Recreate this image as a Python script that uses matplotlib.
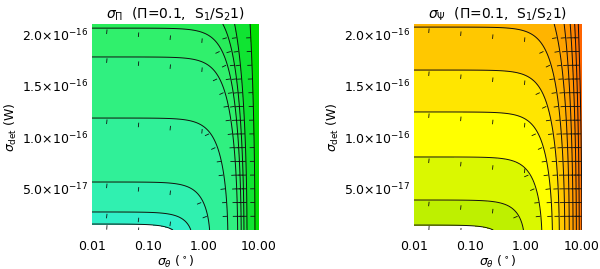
import numpy as np
import matplotlib.pyplot as plt
from matplotlib.collections import LineCollection

# axis ranges: sigma_theta (deg), sigma_det in units of 1e-16 W
x_range = [0.01, 10.0]
y_range = [0.1, 2.1]

# error model: sigma = sqrt(sdet^2 + (k*stheta)^2)
k_pi = 0.43
k_psi = 0.42

levels_pi = [0.158, 0.275, 0.566, 1.187, 1.78, 2.06, 2.31, 2.62, 3.64]
levels_psi = [0.148, 0.391, 0.809, 1.246, 1.653, 2.07, 2.49, 2.91, 3.33, 3.75, 4.17]

colors_pi = ['#30F0C8', '#30F0B0', '#30F098', '#30F080', '#30F06C',
             '#28EC5A', '#1EE848', '#10E432', '#00E000']
colors_psi = ['#BEF000', '#DAF800', '#FFFF00', '#FFE600', '#FFC800', '#FFB400',
              '#FFA200', '#FF9400', '#FF8400', '#FF7400', '#FF6400']

xticks = [0.01, 0.1, 1.0, 10.0]
xticklabels = ['0.01', '0.10', '1.00', '10.00']
yticks = [0.5, 1.0, 1.5, 2.0]
yticklabels = [r'5.0$\times$10$^{-17}$', r'1.0$\times$10$^{-16}$',
               r'1.5$\times$10$^{-16}$', r'2.0$\times$10$^{-16}$']

titles = [r'$\sigma_\Pi$  ($\Pi$=0.1,  S$_1$/S$_2$1)',
          r'$\sigma_\Psi$  ($\Pi$=0.1,  S$_1$/S$_2$1)']

# grid used to place the downhill ticks
tick_rows = np.linspace(0.1, 2.1, 16)[1:-1]
tick_cols = 10 ** (-1.73 + 0.57 * np.arange(5))

plt.rcParams['font.family'] = 'DejaVu Sans'


def make_field(k):
    return lambda x, y: np.sqrt(y ** 2 + (k * x) ** 2)


def downhill_ticks(ax, cs, field, size=4.5):
    trans = ax.transData
    inv = trans.inverted()
    row_px = trans.transform(np.column_stack([np.full(len(tick_rows), x_range[0]), tick_rows]))[:, 1]
    col_px = trans.transform(np.column_stack([tick_cols, np.full(len(tick_cols), y_range[0])]))[:, 0]
    segs = []
    for path in cs.get_paths():
        for poly in path.to_polygons(closed_only=False):
            if len(poly) < 2:
                continue
            pts = trans.transform(poly)
            for p0, p1 in zip(pts[:-1], pts[1:]):
                d = p1 - p0
                seg = np.hypot(*d)
                if seg == 0:
                    continue
                if abs(d[1]) > abs(d[0]):
                    ts = [(r - p0[1]) / d[1] for r in row_px if (p0[1] - r) * (p1[1] - r) < 0]
                else:
                    ts = [(c - p0[0]) / d[0] for c in col_px if (p0[0] - c) * (p1[0] - c) < 0]
                for t in ts:
                    p = p0 + t * d
                    n = np.array([-d[1], d[0]]) / seg
                    a = field(*inv.transform(p + 2 * n))
                    b = field(*inv.transform(p - 2 * n))
                    if a > b:
                        n = -n
                    segs.append(inv.transform(np.array([p, p + size * n])))
    ax.add_collection(LineCollection(segs, colors='#101010', linewidths=0.6))


fig = plt.figure(figsize=(6, 2.69), dpi=100)
positions = [[92 / 600, 39 / 269, 167 / 600, 206 / 269],
             [414 / 600, 39 / 269, 168 / 600, 206 / 269]]

xs = np.logspace(np.log10(x_range[0]), np.log10(x_range[1]), 400)
ys = np.linspace(y_range[0], y_range[1], 400)
X, Y = np.meshgrid(xs, ys)

for pos, k, levels, colors, title in zip(positions, [k_pi, k_psi], [levels_pi, levels_psi],
                                          [colors_pi, colors_psi], titles):
    ax = fig.add_axes(pos)
    ax.set_xscale('log')
    ax.set_xlim(x_range)
    ax.set_ylim(y_range)
    field = make_field(k)
    Z = field(X, Y)
    ax.contourf(X, Y, Z, levels=levels, colors=colors, extend='max')
    cs = ax.contour(X, Y, Z, levels=levels, colors='#101010', linewidths=0.7)
    downhill_ticks(ax, cs, field)

    ax.set_xticks(xticks)
    ax.set_xticklabels(xticklabels)
    ax.minorticks_off()
    ax.set_yticks(yticks)
    ax.set_yticklabels(yticklabels)
    ax.tick_params(length=0, labelsize=9)
    ax.tick_params(axis='x', pad=7)
    ax.tick_params(axis='y', pad=3)
    for s in ax.spines.values():
        s.set_visible(False)
    ax.set_xlabel(r'$\sigma_\theta$ ($^\circ$)', fontsize=9, labelpad=1)
    ax.set_ylabel(r'$\sigma_{\rm det}$ (W)', fontsize=9, labelpad=2)
    ax.set_title(title, fontsize=10, pad=4)

fig.savefig('out.png', dpi=100)
